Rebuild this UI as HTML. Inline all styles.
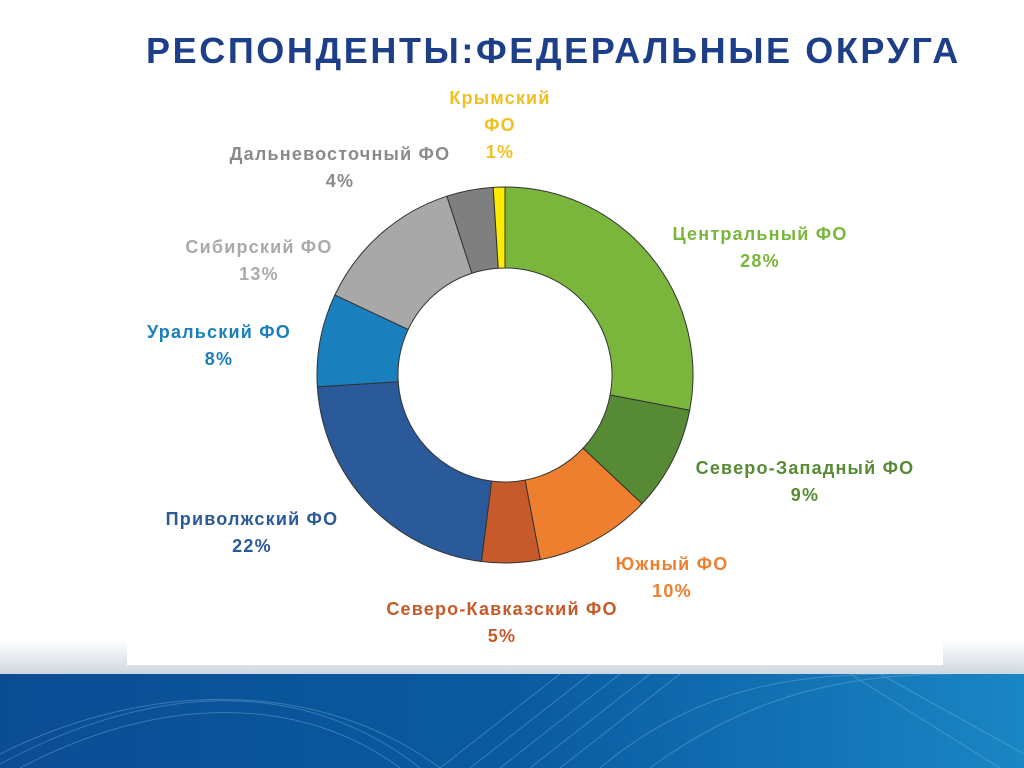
<!DOCTYPE html>
<html><head><meta charset="utf-8"><style>
body{margin:0;width:1024px;height:768px;overflow:hidden;background:#fff;font-family:"Liberation Sans",sans-serif;position:relative}
#fade{position:absolute;left:0;top:640px;width:1024px;height:34px;background:linear-gradient(#fff,#cfd7df)}
#box{position:absolute;left:127px;top:0;width:816px;height:665px;background:#fff}
#band{position:absolute;left:0;top:674px;width:1024px;height:94px;background:linear-gradient(90deg,#0b4d94,#0a5aa0 50%,#1a86c4)}
h1{position:absolute;left:146px;top:30px;margin:0;font-size:36px;color:#1d3f8a;font-weight:bold;letter-spacing:2.6px}
svg{position:absolute;left:0;top:0}
.l{font-weight:bold;font-size:18px;text-anchor:middle;letter-spacing:1.2px}
</style></head><body>
<div id="fade"></div>
<div id="box"></div>
<div id="band">
<svg width="1024" height="94" style="opacity:.3">
<g fill="none" stroke="#9fd0f0" stroke-width="1">
<path d="M0 90 C150 10 300 0 420 94"/><path d="M0 80 C150 5 320 5 440 94"/><path d="M20 94 C160 20 300 20 400 94"/>
<path d="M440 94 L560 0"/><path d="M470 94 L590 0"/><path d="M500 94 L620 0"/><path d="M530 94 L650 0"/><path d="M560 94 L680 0"/><path d="M600 94 C700 10 800 0 900 0"/><path d="M650 94 C750 20 850 0 950 0"/><path d="M850 0 L1000 94"/><path d="M880 0 L1024 80"/>
</g></svg></div>
<h1>РЕСПОНДЕНТЫ:ФЕДЕРАЛЬНЫЕ ОКРУГА</h1>
<svg id="chart" width="1024" height="768"></svg>
<script>
const categories=["Центральный ФО","Северо-Западный ФО","Южный ФО","Северо-Кавказский ФО","Приволжский ФО","Уральский ФО","Сибирский ФО","Дальневосточный ФО","Крымский ФО"];
const values=[28,9,10,5,22,8,13,4,1];
const colors=["#7ab63c","#568a34","#ee7f2e","#c65a2a","#2a5a9a","#1a7fbd","#a8a8a8","#7f7f7f","#ffed00"];
const labelLines=[["Центральный ФО","28%"],["Северо-Западный ФО","9%"],["Южный ФО","10%"],["Северо-Кавказский ФО","5%"],["Приволжский ФО","22%"],["Уральский ФО","8%"],["Сибирский ФО","13%"],["Дальневосточный ФО","4%"],["Крымский","ФО","1%"]];
const labelPos=[[760,240],[805,474],[672,570],[502,615],[252,525],[219,338],[259,253],[340,160],[500,104]];
const labelColors=["#7ab63c","#568a34","#ee7f2e","#c65a2a","#2a5a9a","#1a7fbd","#aaaaaa","#8a8a8a","#f0c020"];
const cx=505,cy=375,R=188,r=107,ns="http://www.w3.org/2000/svg",svg=document.getElementById('chart');
const total=values.reduce((a,b)=>a+b,0);
function pt(a,rad){return [cx+rad*Math.sin(a),cy-rad*Math.cos(a)];}
let acc=0;
values.forEach((v,i)=>{
 const a0=acc/total*2*Math.PI,a1=(acc+v)/total*2*Math.PI;acc+=v;
 const lg=a1-a0>Math.PI?1:0,p0=pt(a0,R),p1=pt(a1,R),q1=pt(a1,r),q0=pt(a0,r);
 const p=document.createElementNS(ns,'path');
 p.setAttribute('d',`M${p0} A${R},${R} 0 ${lg} 1 ${p1} L${q1} A${r},${r} 0 ${lg} 0 ${q0}Z`);
 p.setAttribute('fill',colors[i]);p.setAttribute('stroke','#333');p.setAttribute('stroke-width','1');
 
 
 svg.appendChild(p);
 const t=document.createElementNS(ns,'text');
 t.setAttribute('class','l');t.setAttribute('fill',labelColors[i]);
 
 
 const [lx,ly]=labelPos[i];
 labelLines[i].forEach((s,j)=>{const ts=document.createElementNS(ns,'tspan');ts.setAttribute('x',lx);ts.setAttribute('y',ly+j*27);ts.textContent=s;t.appendChild(ts);});
 svg.appendChild(t);
});
</script>
</body></html>
